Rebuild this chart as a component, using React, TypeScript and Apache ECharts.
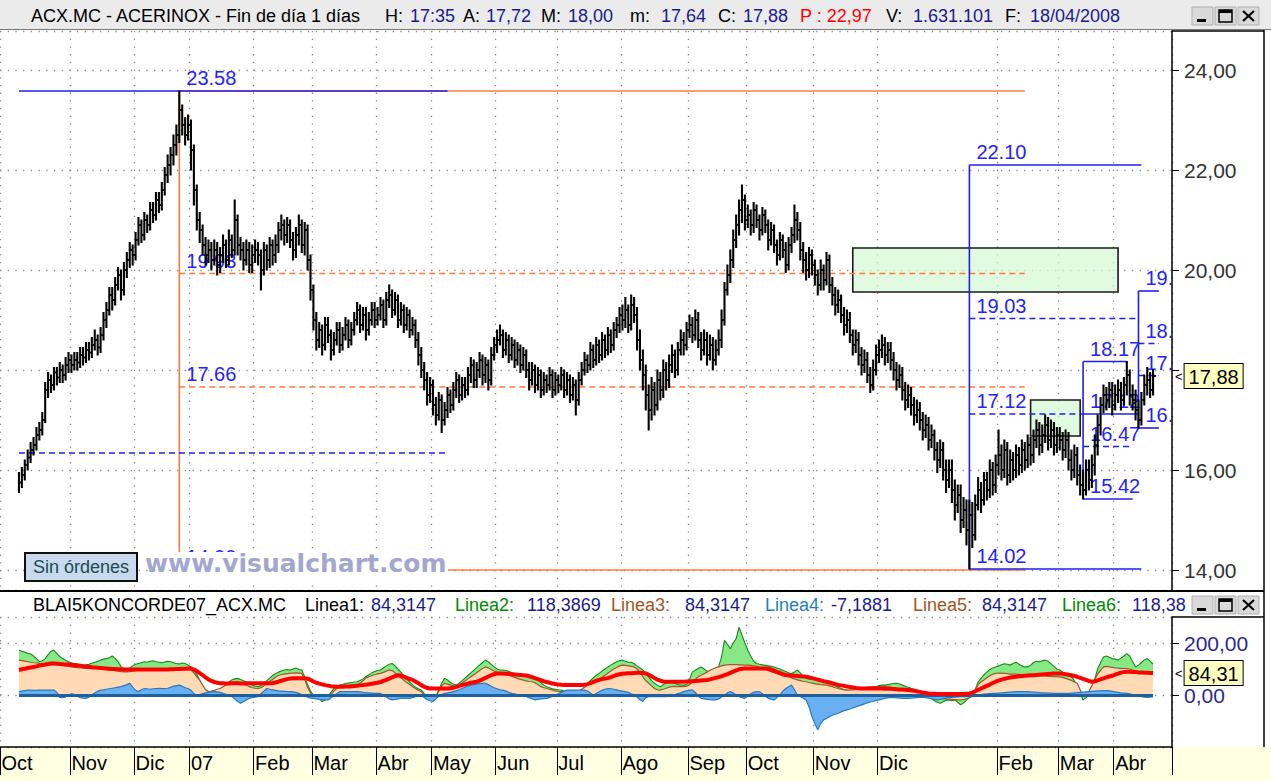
import { useEffect, useRef } from 'react';
import * as echarts from 'echarts';

const FONT = '"Liberation Sans", Arial, Helvetica, sans-serif';
const PAD = 6;
const TAIL = 6;

const monthLabels = ['Oct', 'Nov', 'Dic', '07', 'Feb', 'Mar', 'Abr', 'May', 'Jun', 'Jul', 'Ago', 'Sep', 'Oct', 'Nov', 'Dic', 'Feb', 'Mar', 'Abr'];
const monthStartBar = [-6, 18, 40, 59, 81, 101, 123, 142, 164, 185, 207, 230, 250, 273, 295, 336, 357, 376];

const closes = [
  15.75, 15.9, 16.1, 16.25, 16.4, 16.5, 16.7, 16.8, 17.0, 17.6, 17.8, 17.7, 17.95, 17.85, 18.0, 17.9, 18.1, 18.2,
  18.1, 18.2, 18.15, 18.3, 18.25, 18.4, 18.35, 18.5, 18.6, 18.45, 18.7, 19.0, 19.2, 19.5, 19.4, 19.7, 19.9, 19.6, 20.0, 20.2, 20.4, 20.3,
  20.6, 20.9, 20.7, 21.0, 20.9, 21.2, 21.1, 21.4, 21.3, 21.6, 21.9, 22.1, 22.3, 22.5, 22.7, 23.2, 22.9, 22.7, 22.9,
  22.4, 21.6, 21.0, 20.8, 20.5, 20.3, 20.4, 20.2, 20.4, 20.1, 20.3, 20.5, 20.2, 20.6, 20.4, 21.0, 20.5, 20.4, 20.2, 20.4, 20.1, 20.3,
  20.4, 20.3, 20.0, 20.4, 20.2, 20.5, 20.3, 20.5, 20.8, 20.9, 20.7, 20.9, 20.6, 20.4, 20.7, 20.9, 20.5, 20.8, 20.2, 19.6,
  19.0, 18.6, 18.8, 18.5, 18.9, 18.7, 18.4, 18.6, 18.8, 18.5, 18.7, 18.9, 18.6, 18.8, 19.0, 19.2, 18.9, 19.1, 18.8, 19.0, 19.2, 19.0,
  19.1, 19.3, 19.0, 19.4, 19.5, 19.2, 19.4, 19.0, 19.2, 18.9, 19.1, 18.8, 18.9, 18.6, 18.3, 18.0, 17.8, 17.5, 17.7,
  17.3, 17.1, 17.4, 17.0, 17.2, 17.5, 17.3, 17.6, 17.8, 17.5, 17.7, 17.6, 17.9, 18.1, 17.8, 18.0, 18.2, 17.9, 18.1, 17.8, 18.3, 18.5,
  18.6, 18.7, 18.4, 18.6, 18.3, 18.5, 18.2, 18.4, 18.1, 18.3, 18.0, 17.8, 18.0, 17.7, 17.9, 17.6, 17.8, 17.7, 17.9, 17.6, 17.8,
  17.7, 17.9, 17.6, 17.8, 17.5, 17.7, 17.4, 17.8, 18.0, 18.2, 18.1, 18.4, 18.2, 18.5, 18.3, 18.6, 18.4, 18.7, 18.5, 18.8, 18.9, 19.1,
  19.0, 19.2, 18.9, 19.3, 19.1, 18.6, 18.2, 17.9, 17.5, 17.2, 17.6, 17.3, 17.8, 17.6, 18.0, 17.8, 18.1, 18.3, 18.0, 18.4, 18.6, 18.5, 18.8,
  18.9, 18.7, 19.0, 18.6, 18.4, 18.6, 18.3, 18.5, 18.2, 18.4, 18.6, 19.0, 19.6, 19.9, 20.2, 20.6, 20.9, 21.2, 21.4, 21.0,
  21.1, 20.9, 21.2, 21.0, 20.8, 21.1, 20.9, 20.6, 20.8, 20.5, 20.3, 20.6, 20.4, 20.1, 20.5, 20.7, 21.0, 20.8, 20.4, 20.2, 20.0, 20.3, 20.1,
  19.9, 19.7, 20.0, 19.8, 20.2, 19.7, 19.5, 19.3, 19.4, 19.1, 18.9, 19.0, 18.7, 18.5, 18.6, 18.3, 18.1, 18.2, 17.9, 17.7, 18.0, 18.3,
  18.4, 18.5, 18.3, 18.4, 18.2, 18.0, 17.8, 17.9, 17.6, 17.4, 17.5, 17.3, 17.1, 17.2, 17.0, 16.8, 16.9, 16.6, 16.7,
  16.4, 16.2, 16.4, 16.0, 15.8, 16.0, 15.6, 15.3, 15.5, 15.0, 15.2, 14.8, 15.1, 14.7, 15.3, 15.6, 15.4, 15.8, 15.6, 16.0, 15.7, 16.1,
  16.3, 16.0, 16.4, 15.9, 16.2, 16.0, 16.3, 16.1, 16.4, 16.2, 16.5, 16.3, 16.6, 16.8, 16.5, 16.7, 16.9, 16.6, 16.8, 16.5, 16.7,
  16.6, 16.4, 16.6, 16.2, 16.0, 16.3, 15.9, 15.7, 15.6, 16.0, 15.8, 16.1, 16.5, 16.9, 17.3, 17.5, 17.4, 17.6, 17.3,
  17.5, 17.6, 17.4, 17.7, 17.9, 17.5, 17.4, 17.2, 17.0, 17.4, 17.7, 17.8, 17.6, 17.88,
];

const lows = [
  15.55, 15.65, 15.8, 16.0, 16.15, 16.3, 16.4, 16.6, 16.7, 16.95, 17.45, 17.55, 17.6, 17.7, 17.75, 17.75, 17.8, 17.95,
  17.95, 18.0, 18.0, 18.05, 18.1, 18.15, 18.2, 18.25, 18.4, 18.3, 18.35, 18.6, 18.85, 19.1, 19.2, 19.3, 19.6, 19.4, 19.5, 19.85, 20.05, 20.1,
  20.2, 20.5, 20.55, 20.6, 20.75, 20.8, 20.95, 21.0, 21.15, 21.2, 21.5, 21.75, 21.9, 22.1, 22.3, 22.55, 22.7, 22.5, 22.6,
  22.0, 21.3, 20.8, 20.55, 20.3, 20.1, 20.15, 20.0, 20.1, 19.9, 19.95, 20.15, 20.05, 20.1, 20.25, 20.3, 20.3, 20.2, 20.0, 20.1, 19.95, 19.95,
  20.15, 20.1, 19.6, 19.9, 20.0, 20.05, 20.1, 20.15, 20.35, 20.6, 20.5, 20.55, 20.45, 20.2, 20.25, 20.5, 20.35, 20.3, 20.0, 19.4,
  18.8, 18.4, 18.45, 18.3, 18.4, 18.55, 18.2, 18.3, 18.5, 18.35, 18.4, 18.6, 18.45, 18.5, 18.7, 18.9, 18.75, 18.8, 18.6, 18.7, 18.9, 18.85,
  18.9, 19.0, 18.85, 18.9, 19.25, 19.05, 19.1, 18.85, 18.9, 18.75, 18.8, 18.65, 18.7, 18.45, 18.1, 17.85, 17.6, 17.3, 17.35,
  17.1, 16.9, 17.0, 16.75, 16.9, 17.05, 17.15, 17.2, 17.45, 17.35, 17.4, 17.45, 17.5, 17.75, 17.65, 17.65, 17.85, 17.7, 17.75, 17.6, 17.7, 18.2,
  18.35, 18.5, 18.25, 18.3, 18.15, 18.2, 18.05, 18.1, 17.95, 18.0, 17.85, 17.6, 17.7, 17.55, 17.6, 17.45, 17.5, 17.55, 17.6, 17.45, 17.5,
  17.55, 17.6, 17.45, 17.5, 17.35, 17.4, 17.1, 17.3, 17.7, 17.9, 17.95, 18.0, 18.05, 18.1, 18.15, 18.2, 18.25, 18.3, 18.35, 18.4, 18.65, 18.75,
  18.8, 18.85, 18.75, 18.8, 18.95, 18.4, 18.0, 17.6, 17.2, 16.8, 17.0, 17.1, 17.2, 17.4, 17.45, 17.6, 17.65, 17.95, 17.85, 17.9, 18.3, 18.3, 18.4,
  18.65, 18.55, 18.6, 18.45, 18.2, 18.3, 18.1, 18.2, 18.0, 18.1, 18.3, 18.45, 18.9, 19.5, 19.75, 20.05, 20.45, 20.7, 20.95, 20.8,
  20.85, 20.7, 20.75, 20.85, 20.6, 20.7, 20.75, 20.4, 20.5, 20.35, 20.1, 20.2, 20.25, 19.95, 20.0, 20.35, 20.55, 20.6, 20.2, 19.95, 19.8, 19.85, 19.9,
  19.7, 19.5, 19.6, 19.6, 19.7, 19.55, 19.3, 19.1, 19.15, 18.95, 18.7, 18.75, 18.55, 18.3, 18.35, 18.1, 17.9, 17.95, 17.75, 17.55, 17.6, 17.9,
  18.15, 18.25, 18.1, 18.15, 18.0, 17.8, 17.6, 17.65, 17.4, 17.2, 17.25, 17.1, 16.9, 16.95, 16.8, 16.6, 16.65, 16.4, 16.45,
  16.2, 15.95, 16.05, 15.8, 15.55, 15.65, 15.35, 15.0, 15.15, 14.75, 14.85, 14.5, 14.02, 14.45, 14.6, 15.2, 15.15, 15.3, 15.4, 15.45, 15.5, 15.55,
  15.9, 15.8, 15.85, 15.7, 15.75, 15.8, 15.85, 15.9, 15.95, 16.0, 16.05, 16.1, 16.15, 16.45, 16.3, 16.35, 16.55, 16.4, 16.45, 16.3, 16.35,
  16.4, 16.2, 16.25, 16.0, 15.8, 15.85, 15.7, 15.5, 15.42, 15.5, 15.6, 15.65, 15.9, 16.3, 16.7, 17.15, 17.2, 17.25, 17.1,
  17.2, 17.35, 17.2, 17.3, 17.5, 17.3, 17.2, 17.0, 16.84, 16.9, 17.3, 17.5, 17.45, 17.5,
];

const highs = [
  15.95, 16.05, 16.2, 16.4, 16.55, 16.65, 16.85, 16.95, 17.15, 17.75, 17.95, 17.9, 18.05, 18.05, 18.15, 18.1, 18.25, 18.35,
  18.3, 18.35, 18.35, 18.45, 18.45, 18.55, 18.55, 18.65, 18.8, 18.7, 18.85, 19.15, 19.35, 19.65, 19.65, 19.85, 20.05, 20.0, 20.15, 20.35, 20.55, 20.5,
  20.75, 21.05, 21.0, 21.15, 21.1, 21.35, 21.35, 21.55, 21.55, 21.75, 22.05, 22.3, 22.45, 22.7, 22.9, 23.58, 23.3, 23.05, 23.1,
  23.0, 22.5, 21.7, 21.15, 20.9, 20.65, 20.6, 20.55, 20.6, 20.55, 20.45, 20.7, 20.6, 20.8, 20.7, 21.4, 21.1, 20.65, 20.55, 20.6, 20.55, 20.5,
  20.6, 20.55, 20.4, 20.55, 20.5, 20.65, 20.6, 20.7, 20.95, 21.1, 21.0, 21.05, 21.0, 20.75, 20.85, 21.1, 21.0, 20.95, 20.9, 20.3,
  19.7, 19.15, 18.95, 18.9, 19.05, 19.05, 18.8, 18.75, 18.95, 18.95, 18.85, 19.05, 19.0, 18.95, 19.15, 19.35, 19.3, 19.25, 19.25, 19.15, 19.35, 19.35,
  19.25, 19.45, 19.4, 19.55, 19.7, 19.6, 19.55, 19.5, 19.35, 19.3, 19.25, 19.2, 19.05, 19.0, 18.75, 18.45, 18.15, 17.95, 17.85,
  17.8, 17.45, 17.55, 17.5, 17.35, 17.65, 17.6, 17.75, 17.95, 17.9, 17.85, 17.85, 18.05, 18.25, 18.2, 18.15, 18.35, 18.3, 18.25, 18.2, 18.45, 18.65,
  18.8, 18.9, 18.8, 18.75, 18.7, 18.65, 18.6, 18.55, 18.5, 18.45, 18.4, 18.15, 18.15, 18.1, 18.05, 18.0, 17.95, 17.9, 18.05, 18.0, 17.95,
  17.9, 18.05, 18.0, 17.95, 17.9, 17.85, 17.8, 17.95, 18.15, 18.35, 18.3, 18.55, 18.5, 18.65, 18.6, 18.75, 18.7, 18.85, 18.8, 18.95, 19.05, 19.25,
  19.3, 19.45, 19.3, 19.5, 19.45, 19.25, 18.8, 18.4, 18.1, 17.7, 17.85, 17.75, 18.0, 17.95, 18.2, 18.15, 18.3, 18.5, 18.4, 18.55, 18.8, 18.75, 18.95,
  19.1, 19.05, 19.2, 19.15, 18.75, 18.8, 18.75, 18.7, 18.65, 18.6, 18.8, 19.2, 19.75, 20.1, 20.4, 20.8, 21.1, 21.4, 21.7, 21.5,
  21.3, 21.2, 21.35, 21.3, 21.1, 21.25, 21.2, 21.0, 20.95, 20.9, 20.6, 20.75, 20.7, 20.55, 20.65, 20.85, 21.3, 21.15, 20.95, 20.55, 20.35, 20.45, 20.4,
  20.2, 20.0, 20.2, 20.1, 20.35, 20.3, 19.85, 19.65, 19.6, 19.5, 19.25, 19.2, 19.15, 18.8, 18.8, 18.75, 18.45, 18.4, 18.35, 18.05, 18.2, 18.5,
  18.6, 18.7, 18.65, 18.55, 18.55, 18.35, 18.15, 18.1, 18.05, 17.75, 17.7, 17.65, 17.45, 17.4, 17.35, 17.15, 17.1, 17.05, 16.9,
  16.8, 16.55, 16.6, 16.55, 16.2, 16.2, 16.2, 15.8, 15.7, 15.7, 15.45, 15.4, 15.4, 15.35, 15.5, 15.85, 15.75, 15.95, 15.95, 16.2, 16.15, 16.3,
  16.8, 16.5, 16.6, 16.55, 16.4, 16.35, 16.5, 16.45, 16.6, 16.55, 16.7, 16.65, 16.8, 17.0, 16.95, 16.9, 17.1, 17.05, 17.0, 16.95, 16.85,
  16.85, 16.75, 16.8, 16.75, 16.4, 16.5, 16.45, 16.1, 16.0, 16.2, 16.2, 16.3, 16.7, 17.1, 17.45, 17.7, 17.65, 17.75, 17.75,
  17.7, 17.8, 17.75, 17.85, 18.17, 18.0, 17.7, 17.6, 17.4, 17.55, 17.9, 18.05, 17.95, 18.0,
];

// Indicator BLAI5KONCORDE07 (one value per session)
const linea1 = [
  96, 99, 101, 104, 106, 108, 110, 113, 115, 117, 119, 121, 121, 120, 119, 118, 117, 117, 116, 115,
  114, 113, 111, 110, 109, 107, 106, 105, 104, 103, 102, 101, 100, 100, 99, 99, 98, 98, 98, 98,
  98, 98, 98, 98, 98, 98, 98, 98, 98, 98, 98, 98, 99, 99, 100, 100, 101, 101, 102, 102,
  98, 92, 84, 76, 68, 60, 54, 50, 47, 45, 45, 44, 44, 45, 45, 45, 44, 44, 45, 45,
  45, 45, 45, 45, 45, 45, 45, 46, 48, 51, 55, 58, 61, 63, 64, 64, 64, 64, 64, 63,
  58, 52, 47, 44, 41, 38, 36, 34, 33, 32, 32, 32, 33, 33, 34, 35, 36, 37, 38, 39,
  41, 43, 45, 47, 50, 54, 58, 63, 68, 73, 76, 75, 71, 66, 62, 58, 52, 45, 38, 32,
  27, 25, 25, 25, 25, 25, 25, 25, 26, 28, 31, 35, 38, 41, 44, 47, 49, 51, 55, 60,
  66, 71, 76, 80, 83, 83, 83, 82, 81, 80, 79, 78, 77, 76, 75, 72, 69, 65, 61, 57,
  53, 50, 47, 44, 42, 40, 39, 38, 38, 38, 38, 38, 38, 38, 39, 42, 46, 50, 54, 58,
  61, 63, 65, 69, 73, 77, 80, 82, 83, 84, 84, 85, 86, 86, 85, 83, 78, 72, 65, 59,
  55, 52, 51, 51, 51, 51, 51, 51, 51, 52, 52, 53, 54, 55, 56, 57, 58, 60, 63, 66,
  69, 72, 76, 80, 85, 90, 95, 99, 101, 102, 102, 102, 102, 102, 102, 102, 102, 101, 98, 94,
  89, 85, 80, 77, 76, 75, 74, 73, 72, 71, 70, 68, 65, 62, 59, 56, 53, 51, 48, 45,
  42, 39, 37, 35, 33, 31, 29, 27, 26, 25, 25, 25, 25, 25, 25, 25, 25, 24, 24, 24,
  23, 22, 21, 21, 20, 19, 18, 16, 14, 12, 10, 8, 6, 5, 5, 4, 4, 4, 4, 4,
  4, 4, 4, 4, 4, 5, 6, 9, 14, 20, 25, 30, 35, 40, 46, 51, 55, 59, 62, 65,
  67, 69, 70, 72, 73, 74, 75, 76, 76, 77, 78, 79, 80, 81, 82, 83, 83, 83, 82, 80,
  78, 76, 73, 70, 66, 62, 58, 54, 51, 53, 56, 60, 64, 68, 71, 74, 78, 82, 86, 88,
  89, 89, 88, 88, 87, 87, 86, 86, 85, 84.3147,
];

const linea2 = [
  172, 168, 165, 160, 158, 150, 140, 128, 132, 140, 155, 168, 172, 160, 148, 140, 134, 128, 124, 120,
  118, 116, 115, 116, 118, 122, 126, 130, 134, 138, 140, 143, 150, 140, 128, 110, 100, 96, 104, 112,
  118, 121, 124, 128, 126, 130, 132, 128, 126, 124, 127, 130, 128, 124, 121, 119, 123, 121, 115, 108,
  95, 80, 57, 35, 15, 0, 5, 10, 14, 19, 30, 40, 50, 58, 62, 64, 60, 55, 50, 45,
  38, 34, 32, 36, 45, 55, 65, 75, 82, 88, 92, 96, 98, 96, 100, 104, 98, 96, 70, 40,
  15, 0, -6, -15, -25, -20, -5, 10, 25, 32, 38, 40, 44, 46, 48, 50, 51, 56, 62, 70,
  78, 85, 90, 94, 96, 104, 112, 118, 121, 112, 100, 88, 74, 62, 50, 40, 30, 24, 19, 5,
  -5, -12, -19, -10, 20, 45, 64, 58, 48, 42, 38, 45, 55, 65, 75, 85, 95, 105, 115, 125,
  134, 128, 118, 108, 100, 96, 96, 94, 90, 86, 82, 80, 78, 75, 72, 70, 70, 66, 58, 48,
  38, 32, 28, 24, 22, 20, 19, 14, 10, 6, 3, 0, 5, 15, 28, 42, 55, 66, 76, 83,
  92, 100, 108, 115, 122, 128, 132, 134, 130, 126, 126, 120, 112, 104, 96, 85, 70, 55, 45, 38,
  32, 40, 46, 51, 48, 44, 40, 38, 38, 40, 60, 89, 95, 102, 108, 100, 92, 86, 84, 83,
  110, 146, 210, 195, 178, 200, 217, 261, 230, 200, 172, 150, 130, 121, 118, 116, 114, 112, 110, 108,
  104, 100, 95, 90, 85, 83, 88, 96, 85, 72, 64, 62, 60, 62, 64, 60, 55, 50, 45, 40,
  36, 30, 25, 21, 19, 18, 18, 19, 20, 19, 19, 22, 26, 30, 33, 36, 38, 38, 40, 42,
  44, 45, 42, 38, 34, 30, 26, 22, 19, 12, 5, -2, -6, -14, -22, -28, -32, -26, -20, -19,
  -22, -19, -28, -38, -30, -20, -10, -6, 20, 50, 64, 78, 88, 98, 104, 108, 112, 116, 120, 118,
  115, 121, 126, 118, 112, 108, 108, 115, 125, 130, 128, 132, 134, 130, 120, 110, 100, 96, 88, 80,
  75, 70, 55, 30, 5, -19, -10, 5, 19, 60, 100, 125, 146, 150, 145, 140, 138, 134, 142, 150,
  159, 150, 128, 108, 115, 125, 135, 140, 130, 118.3869,
];

const linea3 = [
  134, 132, 130, 128, 126, 124, 123, 122, 121, 121, 122, 124, 124, 122, 118, 115, 112, 110, 108, 106,
  105, 104, 103, 102, 102, 103, 104, 104, 103, 100, 98, 96, 96, 94, 92, 90, 89, 89, 90, 92,
  94, 96, 97, 98, 98, 99, 100, 99, 98, 97, 97, 98, 98, 97, 96, 96, 97, 98, 97, 96,
  85, 70, 57, 38, 20, 13, 15, 18, 22, 25, 32, 38, 44, 48, 50, 51, 48, 44, 38, 32,
  28, 26, 25, 28, 35, 44, 52, 60, 68, 75, 78, 80, 82, 83, 84, 85, 84, 83, 60, 30,
  8, -5, -13, -15, -14, -13, -13, 0, 15, 25, 32, 34, 35, 36, 37, 38, 38, 45, 55, 65,
  70, 74, 78, 81, 83, 87, 92, 96, 94, 85, 75, 66, 57, 48, 40, 32, 25, 18, 13, 0,
  -8, -11, -13, -5, 15, 35, 45, 42, 38, 34, 32, 38, 46, 54, 62, 70, 78, 86, 94, 102,
  108, 104, 98, 92, 88, 85, 83, 80, 76, 72, 68, 64, 60, 57, 54, 52, 51, 47, 40, 32,
  28, 25, 22, 19, 16, 14, 13, 12, 12, 12, 12, 13, 16, 22, 30, 38, 45, 52, 56, 60,
  68, 76, 84, 92, 100, 106, 112, 115, 114, 112, 110, 108, 100, 88, 70, 55, 45, 35, 25, 20,
  19, 22, 26, 30, 32, 33, 32, 32, 32, 34, 40, 50, 60, 70, 76, 82, 88, 95, 100, 105,
  108, 112, 115, 116, 117, 117, 117, 116, 116, 115, 115, 114, 112, 110, 106, 102, 98, 94, 90, 86,
  82, 78, 75, 72, 70, 66, 62, 58, 55, 52, 51, 48, 46, 44, 42, 40, 39, 38, 35, 32,
  28, 25, 22, 20, 19, 19, 20, 22, 24, 26, 28, 30, 31, 32, 32, 32, 32, 32, 31, 30,
  28, 26, 24, 22, 20, 18, 16, 14, 13, 10, 6, 2, -2, -6, -10, -13, -14, -14, -15, -16,
  -17, -18, -19, -19, -18, -15, -10, 0, 20, 40, 50, 58, 66, 74, 80, 83, 84, 84, 83, 82,
  80, 80, 80, 79, 78, 77, 76, 76, 75, 75, 74, 74, 73, 72, 72, 71, 71, 70, 68, 64,
  60, 56, 50, 45, 20, -6, 0, 15, 35, 60, 80, 95, 108, 110, 108, 106, 104, 103, 102, 102,
  102, 100, 96, 92, 90, 90, 89, 88, 86, 84.3147,
];

const linea4 = [
  13, 15, 17, 19, 19, 18, 18, 19, 19, 19, 19, 19, 19, 10, -9, -10, -8, 0, 5, 2,
  -5, -10, -12, -13, -8, 0, 8, 14, 19, 20, 22, 24, 26, 28, 30, 32, 36, 40, 45, 30,
  18, 13, 20, 25, 24, 22, 24, 25, 26, 25, 25, 26, 30, 34, 36, 38, 34, 28, 25, 18,
  5, 0, 2, 5, 8, 10, 12, 13, 12, 10, 6, 3, 0, -6, -15, -25, -32, -26, -18, -13,
  -10, -8, -6, 5, 15, 25, 22, 20, 18, 16, 15, 14, 13, 13, 12, 10, 6, 2, -3, -8,
  -12, -13, -15, -17, -18, -19, -19, -12, -3, 5, 13, 13, 13, 13, 13, 13, 13, 12, 10, 9,
  8, 7, 6, 6, 6, 0, -8, -15, -19, -17, -15, -13, -13, -13, -13, -10, -6, -3, 0, -10,
  -18, -22, -25, -15, -5, 2, 6, 8, 10, 13, 16, 20, 25, 30, 35, 38, 40, 42, 44, 45,
  45, 40, 34, 28, 24, 20, 19, 15, 10, 6, 4, 2, 0, -2, -6, -10, -14, -19, -17, -15,
  -14, -13, -10, -5, 0, 5, 10, 15, 19, 19, 19, 19, 19, 19, 19, 15, 8, 0, 6, 12,
  18, 22, 25, 24, 22, 20, 17, 15, 13, 10, 5, 0, -8, -18, -25, -10, -6, -6, -6, -6,
  -6, -6, -6, -4, -2, 2, 5, 8, 13, 16, 19, 19, 10, -5, -13, -15, -17, -18, -19, -19,
  -15, -8, 0, 8, 13, 8, 0, -6, -10, -13, -5, 5, 10, 13, 13, 5, -5, -12, -17, -19,
  -10, 0, 15, 25, 32, 38, 20, 0, -6, -12, -19, -45, -83, -110, -134, -110, -96, -90, -83, -78,
  -74, -70, -65, -60, -57, -54, -50, -46, -42, -38, -34, -30, -27, -24, -21, -19, -16, -13, -10, -9,
  -10, -11, -12, -13, -13, -13, -12, -11, -10, -9, -9, -10, -12, -14, -17, -19, -17, -14, -12, -10,
  -9, -8, -7, -6, -6, -6, -6, -4, -2, 0, 2, 3, 4, 5, 6, 6, 7, 8, 9, 10,
  11, 12, 13, 13, 13, 13, 13, 12, 11, 10, 9, 8, 8, 7, 7, 6, 6, 6, 6, 6,
  6, 7, 8, 9, 10, 11, 12, 13, 14, 15, 16, 16, 17, 17, 16, 14, 12, 10, 8, 7,
  6, 4, 2, 0, -3, -6, -8, -9, -8, -7.1881,
];

// Drawing tools: [bar1, price1, bar2, price2]
const fibBlueSolid = [
  [0, 23.58, 147, 23.58],
  [326, 14.02, 326, 22.1], [326, 22.1, 385, 22.1], [326, 14.02, 385, 14.02],
  [365, 15.42, 365, 18.17], [365, 18.17, 380, 18.17], [365, 17.12, 384, 17.12], [365, 15.42, 382, 15.42],
  [384, 16.84, 384, 19.58], [384, 19.58, 391, 19.58], [384, 16.84, 391, 16.84],
];
const fibBlueDashed = [
  [0, 16.34, 147, 16.34],
  [326, 19.03, 384, 19.03], [326, 17.12, 365, 17.12],
  [365, 16.47, 381, 16.47],
  [384, 18.53, 391, 18.53], [384, 17.89, 391, 17.89],
];
const fibOrangeSolid = [
  [55, 23.58, 345, 23.58], [55, 14.0, 55, 23.58], [55, 14.0, 345, 14.0],
];
const fibOrangeDashed = [
  [55, 19.93, 345, 19.93], [55, 17.66, 345, 17.66],
];
const fibLabels = [
  [55, 23.58], [55, 19.93], [55, 17.66], [55, 14.0],
  [326, 22.1], [326, 19.03], [326, 17.12], [326, 14.02],
  [365, 18.17], [365, 17.12], [365, 16.47], [365, 15.42],
  [384, 19.58], [384, 18.53], [384, 17.89], [384, 16.84],
];
const zones = [
  [286, 19.56, 377, 20.44],
  [347, 16.68, 364, 17.4],
];

const titleParts = [
  ['ACX.MC - ACERINOX - Fin de día 1 días', 'k'], ['H:', 'k'], ['17:35', 'v'], ['A:', 'k'], ['17,72', 'v'],
  ['M:', 'k'], ['18,00', 'v'], ['m:', 'k'], ['17,64', 'v'], ['C:', 'k'], ['17,88', 'v'], ['P : 22,97', 'r'],
  ['V:', 'k'], ['1.631.101', 'v'], ['F:', 'k'], ['18/04/2008', 'v'],
];
const titleX = [31, 385, 410, 463, 486, 541, 568, 630, 661, 718, 743, 800, 886, 913, 1005, 1030];

const indParts = [
  ['BLAI5KONCORDE07_ACX.MC', 'k'], ['Linea1:', 'k'], ['84,3147', 'v'], ['Linea2:', 'g'], ['118,3869', 'v'],
  ['Linea3:', 'b'], ['84,3147', 'v'], ['Linea4:', 'l'], ['-7,1881', 'v'], ['Linea5:', 'b'], ['84,3147', 'v'],
  ['Linea6:', 'g'], ['118,3869', 'v'],
];
const indX = [33, 305, 371, 455, 527, 611, 685, 765, 831, 913, 982, 1062, 1132];

const COLORS: Record<string, string> = {
  k: '#000000', v: '#1a1a8c', r: '#ff0000', g: '#008a00', b: '#a0561e', l: '#1f7fbf',
};

function buildOption() {
  const n = closes.length;
  const slotCount = PAD + n + TAIL;
  const slots = Array.from({ length: slotCount }, (_, s) => 's' + s);
  const monthSlot = new Map<number, string>();
  monthStartBar.forEach((b, k) => monthSlot.set(b + PAD, monthLabels[k]));
  const isMonth = (i: number) => monthSlot.has(i);
  const dotted = { color: '#8a8a8a', width: 1.3, type: [1.3, 6.4] };

  const segSeries = (segs: number[][], color: string, dashed: boolean) => ({
    type: 'custom',
    xAxisIndex: 0,
    yAxisIndex: 0,
    clip: true,
    silent: true,
    z: 2,
    data: segs.map((s) => [s[0] + PAD, s[1], s[2] + PAD, s[3]]),
    encode: { x: [0, 2], y: [1, 3] },
    renderItem: (_p: any, api: any) => {
      const a = api.coord([api.value(0), api.value(1)]);
      const b = api.coord([api.value(2), api.value(3)]);
      return {
        type: 'line',
        shape: { x1: a[0], y1: a[1], x2: b[0], y2: b[1] },
        style: { stroke: color, lineWidth: 1.6, lineDash: dashed ? [6, 4] : null },
      };
    },
  });

  const gEls: any[] = [];
  gEls.push({ type: 'rect', z: -10, silent: true, shape: { x: 0, y: 0, width: 1271, height: 29 }, style: { fill: '#ebebeb' } });
  gEls.push({ type: 'line', z: 20, silent: true, shape: { x1: 0, y1: 29.5, x2: 1271, y2: 29.5 }, style: { stroke: '#7a7a7a', lineWidth: 1 } });
  gEls.push({ type: 'rect', z: -10, silent: true, shape: { x: 0, y: 747, width: 1271, height: 34 }, style: { fill: '#ffffe1' } });
  gEls.push({ type: 'line', z: 20, silent: true, shape: { x1: 0, y1: 591, x2: 1264, y2: 591 }, style: { stroke: '#000', lineWidth: 2 } });
  gEls.push({ type: 'line', z: 20, silent: true, shape: { x1: 1264, y1: 30, x2: 1264, y2: 747 }, style: { stroke: '#000', lineWidth: 1.5 } });
  gEls.push({ type: 'line', z: 20, silent: true, shape: { x1: 1172, y1: 31, x2: 1264, y2: 31 }, style: { stroke: '#000', lineWidth: 1.5 } });
  gEls.push({ type: 'line', z: 20, silent: true, shape: { x1: 1172, y1: 617, x2: 1264, y2: 617 }, style: { stroke: '#000', lineWidth: 1.5 } });

  titleParts.forEach((p, k) => {
    gEls.push({ type: 'text', z: 20, silent: true, x: titleX[k], y: 16, style: { text: p[0], fill: COLORS[p[1]], font: `18px ${FONT}`, align: 'left', verticalAlign: 'middle', textAlign: 'left', textVerticalAlign: 'middle' } });
  });
  indParts.forEach((p, k) => {
    gEls.push({ type: 'text', z: 20, silent: true, x: indX[k], y: 605, style: { text: p[0], fill: COLORS[p[1]], font: `18px ${FONT}`, align: 'left', verticalAlign: 'middle', textAlign: 'left', textVerticalAlign: 'middle' } });
  });
  gEls.push({ type: 'rect', z: 21, silent: true, shape: { x: 1186, y: 594, width: 77, height: 22 }, style: { fill: '#ffffff' } });

  [7, 596].forEach((by) => {
    const xs = [1192, 1215, 1238];
    xs.forEach((bx, k) => {
      gEls.push({ type: 'rect', z: 22, silent: true, shape: { x: bx, y: by, width: 21, height: 18 }, style: { fill: '#d9d9d9', stroke: '#b0b0b0', lineWidth: 1 } });
      if (k === 0) gEls.push({ type: 'rect', z: 23, silent: true, shape: { x: bx + 5, y: by + 12, width: 9, height: 3 }, style: { fill: '#000' } });
      if (k === 1) {
        gEls.push({ type: 'rect', z: 23, silent: true, shape: { x: bx + 4, y: by + 3, width: 13, height: 12 }, style: { fill: 'none', stroke: '#000', lineWidth: 1.5 } });
        gEls.push({ type: 'rect', z: 23, silent: true, shape: { x: bx + 4, y: by + 3, width: 13, height: 3 }, style: { fill: '#000' } });
      }
      if (k === 2) {
        gEls.push({ type: 'line', z: 23, silent: true, shape: { x1: bx + 5, y1: by + 4, x2: bx + 16, y2: by + 14 }, style: { stroke: '#000', lineWidth: 2.2 } });
        gEls.push({ type: 'line', z: 23, silent: true, shape: { x1: bx + 16, y1: by + 4, x2: bx + 5, y2: by + 14 }, style: { stroke: '#000', lineWidth: 2.2 } });
      }
    });
  });

  gEls.push({ type: 'rect', z: 9, silent: true, shape: { x: 176, y: 552, width: 272, height: 32 }, style: { fill: '#ffffff' } });
  gEls.push({ type: 'text', z: 11, silent: true, x: 145, y: 563, style: { text: 'www.visualchart.com', fill: '#a3a7cf', font: `bold 25px "DejaVu Sans", Verdana, sans-serif`, align: 'left', verticalAlign: 'middle', textAlign: 'left', textVerticalAlign: 'middle' } });
  gEls.push({ type: 'rect', z: 12, silent: true, shape: { x: 25, y: 553, width: 112, height: 28 }, style: { fill: '#c9d9ee', stroke: '#111', lineWidth: 2 } });
  gEls.push({ type: 'text', z: 13, silent: true, x: 81, y: 567, style: { text: 'Sin órdenes', fill: '#1e4a50', font: `18px ${FONT}`, align: 'center', verticalAlign: 'middle', textAlign: 'center', textVerticalAlign: 'middle' } });

  const lastClose = closes[n - 1];
  const lastL1 = linea1[n - 1];
  const boxLabel = (fontSize: number) => ({
    show: true,
    position: 'end',
    distance: 3,
    opacity: 1,
    color: '#000',
    rich: {
      a: { fontSize: 13, color: '#000', fontFamily: FONT, padding: [0, 2, 0, 0] },
      b: { backgroundColor: '#ffffc0', borderColor: '#000', borderWidth: 1, padding: [3, 4, 1, 4], fontSize, color: '#000', fontFamily: FONT },
    },
  });
  const hiddenLine = { color: 'rgba(0,0,0,0)', width: 0.01, type: 'solid' };

  const indSeries = (data: number[], lineColor: string, width: number, area: string | null, z: number) => ({
    type: 'line',
    xAxisIndex: 1,
    yAxisIndex: 1,
    data: data.map((v, i) => [i + PAD, v]),
    showSymbol: false,
    symbol: 'none',
    silent: true,
    z,
    lineStyle: { color: lineColor, width },
    areaStyle: area ? { color: area, opacity: 1, origin: 0 } : undefined,
  });

  const blue = indSeries(linea4, '#2a78c0', 1.2, '#69b0f0', 4) as any;
  blue.markLine = {
    silent: true,
    symbol: ['none', 'none'],
    label: { show: false },
    lineStyle: { color: '#1d5f9f', width: 3, type: 'solid' },
    data: [[{ coord: [PAD, 0] }, { coord: [PAD + n - 1, 0] }]],
  };
  const red = indSeries(linea1, '#ff0000', 4, null, 6) as any;
  red.clip = false;
  red.markLine = {
    silent: true,
    symbol: ['none', 'none'],
    lineStyle: hiddenLine,
    label: { ...boxLabel(20), formatter: (p: any) => '{a|<}{b|' + Number(p.value).toFixed(2).replace('.', ',') + '}' },
    data: [{ yAxis: lastL1 }],
  };

  return {
    animation: false,
    backgroundColor: '#ffffff',
    textStyle: { fontFamily: FONT },
    graphic: { elements: gEls },
    grid: [
      { left: 0, right: 99, top: 31, height: 559, outerBoundsMode: 'none', containLabel: false },
      { left: 0, right: 99, top: 617, height: 130, outerBoundsMode: 'none', containLabel: false },
    ],
    xAxis: [
      {
        type: 'category', gridIndex: 0, data: slots, boundaryGap: true,
        axisLine: { show: false }, axisTick: { show: false }, axisLabel: { show: false },
        splitLine: { show: true, interval: (i: number) => isMonth(i), lineStyle: dotted },
      },
      {
        type: 'category', gridIndex: 1, data: slots, boundaryGap: true, position: 'bottom',
        axisLine: { show: true, onZero: false, lineStyle: { color: '#000', width: 1.5 } },
        axisTick: { show: true, interval: (i: number) => isMonth(i), length: 28, lineStyle: { color: '#000', width: 1 } },
        axisLabel: {
          show: true, interval: (i: number) => isMonth(i), formatter: (_v: string, i: number) => monthSlot.get(i) ?? '',
          align: 'left', margin: 6, fontSize: 20, color: '#000', fontFamily: FONT, hideOverlap: false,
        },
        splitLine: { show: true, interval: (i: number) => isMonth(i), lineStyle: dotted },
      },
    ],
    yAxis: [
      {
        type: 'value', gridIndex: 0, position: 'right', min: 13.6, max: 24.78, splitNumber: 5, scale: true,
        axisLine: { show: true, lineStyle: { color: '#000', width: 1.5 } },
        axisTick: { show: true, length: 7, lineStyle: { color: '#000' } },
        axisLabel: {
          margin: 12, fontSize: 21, color: '#333', fontFamily: FONT, showMinLabel: false, showMaxLabel: false,
          formatter: (v: number) => (Math.abs(v - Math.round(v)) < 1e-6 && Math.round(v) % 2 === 0 ? v.toFixed(2).replace('.', ',') : ''),
        },
        splitLine: { show: true, lineStyle: dotted },
      },
      {
        type: 'value', gridIndex: 1, position: 'right', min: -200, max: 300, interval: 200,
        axisLine: { show: true, lineStyle: { color: '#000', width: 1.5 } },
        axisTick: { show: true, length: 7, lineStyle: { color: '#000' } },
        axisLabel: {
          margin: 12, fontSize: 21, color: '#2b2b90', fontFamily: FONT, showMinLabel: false, showMaxLabel: false,
          formatter: (v: number) => (v === 0 || v === 200 ? v.toFixed(2).replace('.', ',') : ''),
        },
        splitLine: { show: true, lineStyle: dotted },
      },
    ],
    series: [
      {
        type: 'custom', xAxisIndex: 0, yAxisIndex: 0, clip: true, silent: true, z: 1,
        data: zones.map((r) => [r[0] + PAD, r[1], r[2] + PAD, r[3]]),
        encode: { x: [0, 2], y: [1, 3] },
        renderItem: (_p: any, api: any) => {
          const a = api.coord([api.value(0), api.value(3)]);
          const b = api.coord([api.value(2), api.value(1)]);
          return {
            type: 'rect',
            shape: { x: a[0], y: a[1], width: b[0] - a[0], height: b[1] - a[1] },
            style: { fill: 'rgba(214,250,214,0.72)', stroke: '#1a1a1a', lineWidth: 1.6 },
          };
        },
      },
      segSeries(fibOrangeSolid, '#ff7a3c', false),
      segSeries(fibOrangeDashed, '#ff7a3c', true),
      segSeries(fibBlueSolid, '#1f1ff0', false),
      segSeries(fibBlueDashed, '#1f1ff0', true),
      {
        type: 'custom', xAxisIndex: 0, yAxisIndex: 0, clip: true, silent: true, z: 2,
        data: fibLabels.map((l) => [l[0] + PAD, l[1]]),
        encode: { x: 0, y: 1 },
        renderItem: (_p: any, api: any) => {
          const p = api.coord([api.value(0), api.value(1)]);
          return {
            type: 'text',
            x: p[0] + 7,
            y: p[1] - 3,
            style: {
              text: Number(api.value(1)).toFixed(2), fill: '#2323ff', font: `20px ${FONT}`,
              align: 'left', verticalAlign: 'bottom', textAlign: 'left', textVerticalAlign: 'bottom',
            },
          };
        },
      },
      {
        type: 'custom', xAxisIndex: 0, yAxisIndex: 0, clip: true, silent: true, z: 3,
        data: closes.map((c, i) => [i + PAD, lows[i], highs[i], c]),
        encode: { x: 0, y: [1, 2, 3] },
        renderItem: (_p: any, api: any) => {
          const x = api.value(0);
          const lo = api.coord([x, api.value(1)]);
          const hi = api.coord([x, api.value(2)]);
          const cl = api.coord([x, api.value(3)]);
          return {
            type: 'group',
            children: [
              { type: 'line', shape: { x1: hi[0], y1: hi[1] - 0.5, x2: lo[0], y2: lo[1] + 0.5 }, style: { stroke: '#000', lineWidth: 2.1 } },
              { type: 'line', shape: { x1: cl[0], y1: cl[1], x2: cl[0] + 3, y2: cl[1] }, style: { stroke: '#000', lineWidth: 1.8 } },
            ],
          };
        },
      },
      {
        type: 'line', xAxisIndex: 0, yAxisIndex: 0, silent: true, symbol: 'none', showSymbol: false, clip: false, z: 8,
        data: [[PAD + n - 1, lastClose]],
        lineStyle: { color: 'rgba(0,0,0,0)', width: 0 },
        markLine: {
          silent: true,
          symbol: ['none', 'none'],
          lineStyle: hiddenLine,
          label: { ...boxLabel(20), formatter: (p: any) => '{a|<}{b|' + Number(p.value).toFixed(2).replace('.', ',') + '}' },
          data: [{ yAxis: lastClose }],
        },
      },
      indSeries(linea2, '#138a13', 1.1, '#86e986', 2),
      indSeries(linea3, '#9a5a2a', 1.2, '#ffdab4', 3),
      blue,
      red,
    ],
  };
}

export default function App() {
  const ref = useRef<HTMLDivElement>(null);
  useEffect(() => {
    if (!ref.current) return;
    const chart = echarts.init(ref.current, null, { renderer: 'svg' });
    chart.setOption(buildOption() as any);
    return () => chart.dispose();
  }, []);
  return <div ref={ref} style={{ position: 'absolute', left: 0, top: 0, width: 1271, height: 781 }} />;
}
